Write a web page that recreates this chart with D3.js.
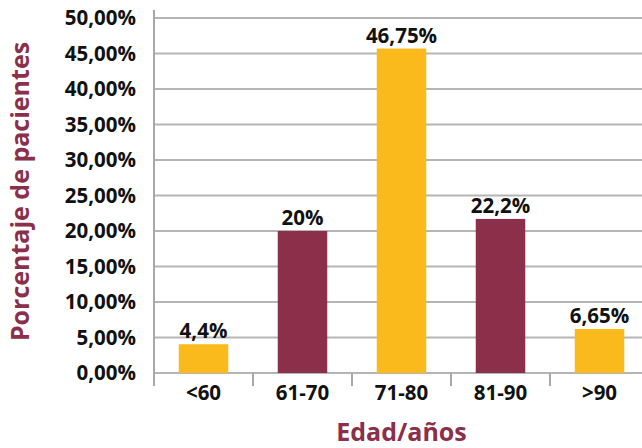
<!DOCTYPE html>
<html>
<head>
<meta charset="utf-8">
<script src="https://cdn.jsdelivr.net/npm/d3@7"></script>
<style>
  html, body { margin: 0; padding: 0; background: #fff; }
  svg { display: block; font-family: "Open Sans", sans-serif; }
</style>
</head>
<body>
<svg id="chart" width="642" height="448"></svg>
<script>
// categories, drawn bar heights and the printed data labels
const categories = ["<60", "61-70", "71-80", "81-90", ">90"];
const values = [4.05, 20, 45.7, 21.7, 6.2];
const labels = ["4,4%", "20%", "46,75%", "22,2%", "6,65%"];
const barColors = ["#fbba1c", "#8b2f4b", "#fbba1c", "#8b2f4b", "#fbba1c"];
const yTicks = [0, 5, 10, 15, 20, 25, 30, 35, 40, 45, 50];

const svg = d3.select("#chart");
const width = +svg.attr("width");

const margin = { left: 154, top: 18, bottom: 373, right: 649 };
const maroon = "#8b2f4b";

const x = d3.scaleBand()
  .domain(categories)
  .range([margin.left, margin.right])
  .paddingInner(0.5)
  .paddingOuter(0.25);

const y = d3.scaleLinear()
  .domain([0, 50])
  .range([margin.bottom, margin.top]);

// gridlines
svg.append("g")
  .selectAll("line")
  .data(yTicks)
  .join("line")
  .attr("x1", margin.left)
  .attr("x2", width)
  .attr("y1", d => y(d))
  .attr("y2", d => y(d))
  .attr("stroke", "#b5b5b5")
  .attr("stroke-width", 2);

// y tick labels
svg.append("g")
  .selectAll("text")
  .data(yTicks)
  .join("text")
  .attr("x", 136)
  .attr("y", d => y(d))
  .attr("dy", "0.36em")
  .attr("text-anchor", "end")
  .style("font-size", "20.5px")
  .style("font-weight", 700)
  .attr("fill", "#111")
  .text(d => d3.format(".2f")(d).replace(".", ",") + "%");

// bars
svg.append("g")
  .selectAll("rect")
  .data(values)
  .join("rect")
  .attr("x", (d, i) => x(categories[i]))
  .attr("width", x.bandwidth())
  .attr("y", d => y(d))
  .attr("height", d => y(0) - y(d))
  .attr("fill", (d, i) => barColors[i]);

// y axis line
svg.append("line")
  .attr("x1", margin.left).attr("x2", margin.left)
  .attr("y1", 10).attr("y2", 386)
  .attr("stroke", "#a8a8a8")
  .attr("stroke-width", 2);

// category separators (ticks below baseline)
const step = x.step();
const bounds = categories.map((c, i) => margin.left + i * step).concat([margin.right]);
svg.append("g")
  .selectAll("line")
  .data(bounds)
  .join("line")
  .attr("x1", d => d).attr("x2", d => d)
  .attr("y1", y(0)).attr("y2", 386)
  .attr("stroke", "#a8a8a8")
  .attr("stroke-width", 2);

// category labels
svg.append("g")
  .selectAll("text")
  .data(categories)
  .join("text")
  .attr("x", d => x(d) + x.bandwidth() / 2)
  .attr("y", 400)
  .attr("text-anchor", "middle")
  .style("font-size", "20.5px")
  .style("font-weight", 700)
  .attr("fill", "#111")
  .text(d => d);

// data labels
svg.append("g")
  .selectAll("text")
  .data(values)
  .join("text")
  .attr("x", (d, i) => x(categories[i]) + x.bandwidth() / 2)
  .attr("y", d => y(d) - 6)
  .attr("text-anchor", "middle")
  .style("font-size", "20.5px")
  .style("font-weight", 700)
  .attr("fill", "#111")
  .text((d, i) => labels[i]);

// axis titles
svg.append("text")
  .attr("x", (margin.left + margin.right) / 2)
  .attr("y", 441)
  .attr("text-anchor", "middle")
  .style("font-size", "25px")
  .style("font-weight", 700)
  .attr("fill", maroon)
  .text("Edad/años");

svg.append("text")
  .attr("transform", `translate(29, ${(45 + 338) / 2}) rotate(-90)`)
  .attr("text-anchor", "middle")
  .style("font-size", "25px")
  .style("font-weight", 700)
  .attr("fill", maroon)
  .text("Porcentaje de pacientes");
</script>
</body>
</html>
